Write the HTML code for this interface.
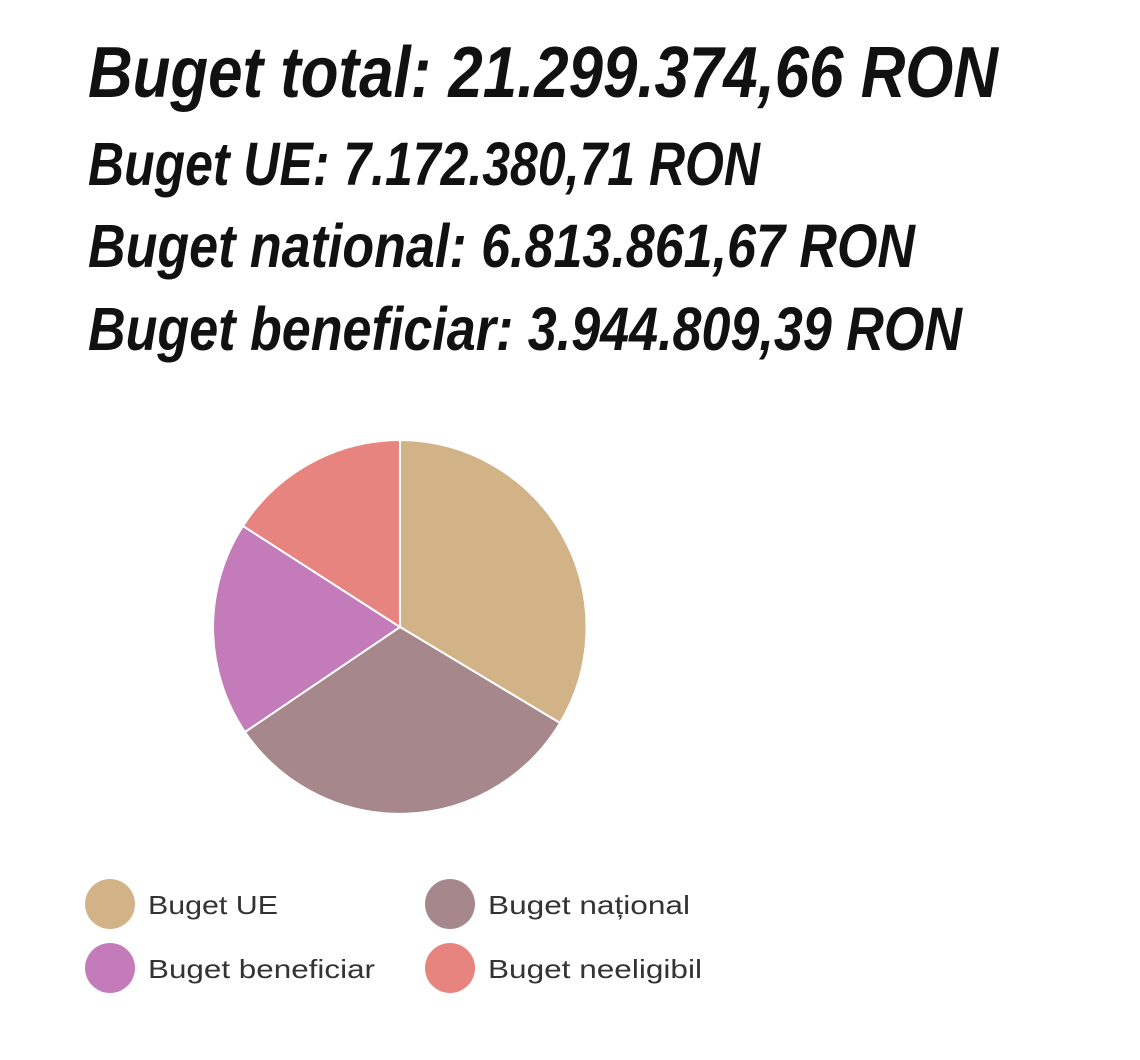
<!DOCTYPE html>
<html><head><meta charset="utf-8"><style>
html,body{margin:0;padding:0;background:#fff;width:1140px;height:1060px;overflow:hidden}
</style></head><body>
<svg width="1140" height="1060" xmlns="http://www.w3.org/2000/svg">
<g font-family="Liberation Sans, sans-serif" font-weight="bold" font-style="italic" fill="#111">
<text x="88" y="97" font-size="72" textLength="910" lengthAdjust="spacingAndGlyphs">Buget total: 21.299.374,66 RON</text>
<text x="88" y="185" font-size="61" textLength="672" lengthAdjust="spacingAndGlyphs">Buget UE: 7.172.380,71 RON</text>
<text x="88" y="267" font-size="61" textLength="827" lengthAdjust="spacingAndGlyphs">Buget national: 6.813.861,67 RON</text>
<text x="88" y="350" font-size="61" textLength="874" lengthAdjust="spacingAndGlyphs">Buget beneficiar: 3.944.809,39 RON</text>
</g>
<g stroke="#fff" stroke-width="2" stroke-linejoin="round">
<path d="M400,627 L400,440 A187,187 0 0 1 560,723 Z" fill="#D2B388"/>
<path d="M400,627 L560,723 A187,187 0 0 1 245,732 Z" fill="#A6878C"/>
<path d="M400,627 L245,732 A187,187 0 0 1 243,526 Z" fill="#C47BBA"/>
<path d="M400,627 L243,526 A187,187 0 0 1 400,440 Z" fill="#E8847F"/>
</g>
<g font-family="Liberation Sans, sans-serif" font-size="26" fill="#333">
<circle cx="110" cy="904" r="25" fill="#D2B388"/>
<text x="148" y="914" textLength="130" lengthAdjust="spacingAndGlyphs">Buget UE</text>
<circle cx="450" cy="904" r="25" fill="#A6878C"/>
<text x="488" y="914" textLength="202" lengthAdjust="spacingAndGlyphs">Buget național</text>
<circle cx="110" cy="968" r="25" fill="#C47BBA"/>
<text x="148" y="978" textLength="227" lengthAdjust="spacingAndGlyphs">Buget beneficiar</text>
<circle cx="450" cy="968" r="25" fill="#E8847F"/>
<text x="488" y="978" textLength="214" lengthAdjust="spacingAndGlyphs">Buget neeligibil</text>
</g>
</svg>
</body></html>
